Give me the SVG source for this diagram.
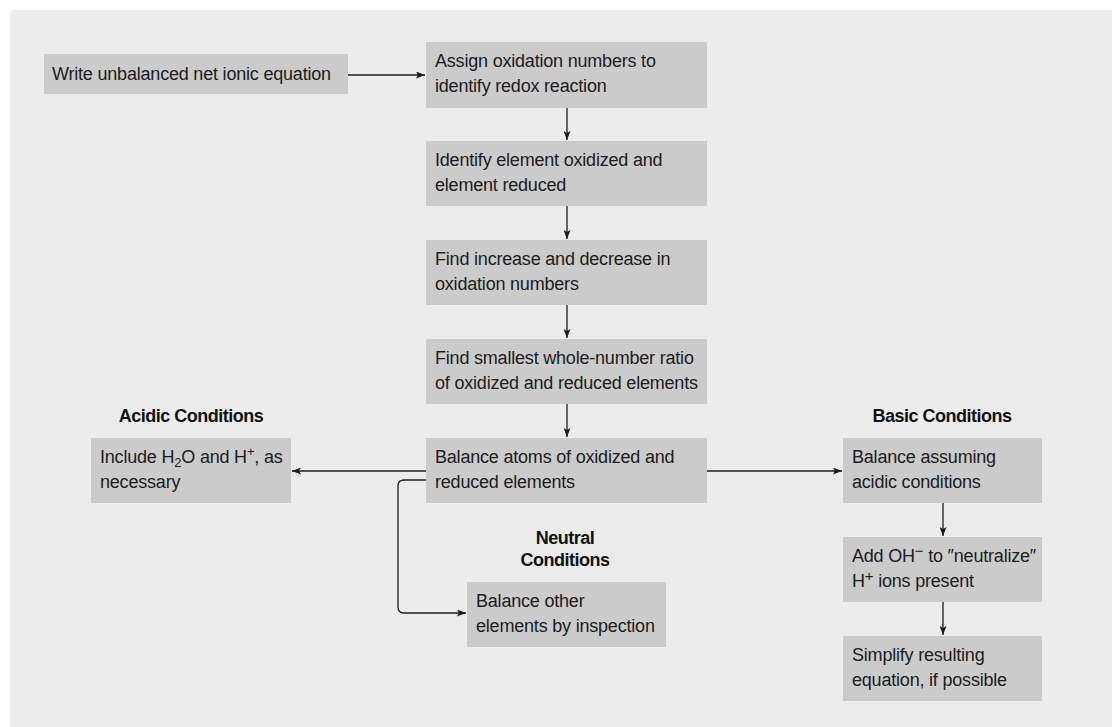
<svg xmlns="http://www.w3.org/2000/svg" width="1112" height="727" viewBox="0 0 1112 727">
<style>
.box{fill:#cbcbcb;}
.t{font-family:"Liberation Sans",Arial,sans-serif;font-size:18px;fill:#1c1c1c;letter-spacing:-0.2px;}
.h{font-family:"Liberation Sans",Arial,sans-serif;font-size:18px;font-weight:bold;fill:#111;text-anchor:middle;letter-spacing:-0.5px;}
.c{fill:none;stroke:#1c1c1c;stroke-width:1.3;}
.s{font-size:13px;}
.s2{font-size:15px;}
</style>
<defs>
<marker id="ah" markerUnits="userSpaceOnUse" markerWidth="9" markerHeight="7" refX="9" refY="3.5" orient="auto">
<path d="M0,0 L9,3.5 L0,7 L2,3.5 z" fill="#1c1c1c"/>
</marker>
</defs>
<rect x="0" y="0" width="1112" height="727" fill="#ffffff"/>
<rect x="10" y="10" width="1110" height="725" rx="4" fill="#ececec"/>

<g id="connectors">
<path class="c" d="M348,75 H425" marker-end="url(#ah)"/>
<path class="c" d="M567,108 V140" marker-end="url(#ah)"/>
<path class="c" d="M567,206 V239" marker-end="url(#ah)"/>
<path class="c" d="M567,305 V338" marker-end="url(#ah)"/>
<path class="c" d="M567,404 V437" marker-end="url(#ah)"/>
<path class="c" d="M426,471 H292" marker-end="url(#ah)"/>
<path class="c" d="M707,471 H842" marker-end="url(#ah)"/>
<path class="c" d="M426,480 H404 Q398,480 398,486 V607 Q398,613 404,613 H466" marker-end="url(#ah)"/>
<path class="c" d="M943,503 V536" marker-end="url(#ah)"/>
<path class="c" d="M943,602 V635" marker-end="url(#ah)"/>
</g>

<g id="n1"><rect class="box" x="44" y="54" width="304" height="40"/>
<text class="t" x="52" y="80">Write unbalanced net ionic equation</text></g>

<g id="n2"><rect class="box" x="426" y="42" width="281" height="66"/>
<text class="t" x="435" y="67">Assign oxidation numbers to</text>
<text class="t" x="435" y="92">identify redox reaction</text></g>

<g id="n3"><rect class="box" x="426" y="141" width="281" height="65"/>
<text class="t" x="435" y="166">Identify element oxidized and</text>
<text class="t" x="435" y="191">element reduced</text></g>

<g id="n4"><rect class="box" x="426" y="240" width="281" height="65"/>
<text class="t" x="435" y="265">Find increase and decrease in</text>
<text class="t" x="435" y="290">oxidation numbers</text></g>

<g id="n5"><rect class="box" x="426" y="339" width="281" height="65"/>
<text class="t" x="435" y="364">Find smallest whole-number ratio</text>
<text class="t" x="435" y="389">of oxidized and reduced elements</text></g>

<g id="n6"><rect class="box" x="426" y="438" width="281" height="65"/>
<text class="t" x="435" y="463">Balance atoms of oxidized and</text>
<text class="t" x="435" y="488">reduced elements</text></g>

<g id="acidic">
<text class="h" x="191" y="422">Acidic Conditions</text>
<rect class="box" x="91" y="438" width="200" height="65"/>
<text class="t" x="100" y="463">Include H<tspan class="s" dy="4">2</tspan><tspan dy="-4">O and H</tspan><tspan class="s" dy="-7">+</tspan><tspan dy="7">, as</tspan></text>
<text class="t" x="100" y="488">necessary</text></g>

<g id="neutral">
<text class="h" x="565" y="544">Neutral</text>
<text class="h" x="565" y="566">Conditions</text>
<rect class="box" x="467" y="582" width="199" height="65"/>
<text class="t" x="476" y="607">Balance other</text>
<text class="t" x="476" y="632">elements by inspection</text></g>

<g id="basic">
<text class="h" x="942" y="422">Basic Conditions</text>
<rect class="box" x="843" y="438" width="199" height="65"/>
<text class="t" x="852" y="463">Balance assuming</text>
<text class="t" x="852" y="488">acidic conditions</text></g>

<g id="basic2"><rect class="box" x="843" y="537" width="199" height="65"/>
<text class="t" x="852" y="562">Add OH<tspan class="s2" dy="-6">−</tspan><tspan dy="6"> to ″neutralize″</tspan></text>
<text class="t" x="852" y="587">H<tspan class="s2" dy="-6">+</tspan><tspan dy="6"> ions present</tspan></text></g>

<g id="basic3"><rect class="box" x="843" y="636" width="199" height="65"/>
<text class="t" x="852" y="661">Simplify resulting</text>
<text class="t" x="852" y="686">equation, if possible</text></g>
</svg>
